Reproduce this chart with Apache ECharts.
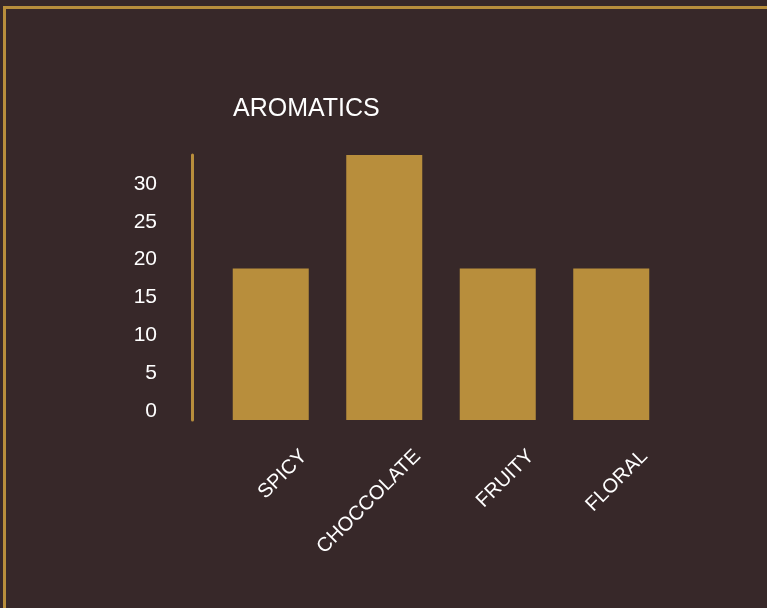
<!DOCTYPE html>
<html>
<head>
<meta charset="utf-8">
<script src="https://cdn.jsdelivr.net/npm/echarts@6/dist/echarts.min.js"></script>
<style>
html,body{margin:0;padding:0;background:#372829;}
#chart{width:767px;height:608px;}
</style>
</head>
<body>
<div id="chart"></div>
<script>
const categories = ['SPICY', 'CHOCCOLATE', 'FRUITY', 'FLORAL'];
const values = [20, 35, 20, 20];
const titleText = 'AROMATICS';

const gold = '#b88e3c';
const chart = echarts.init(document.getElementById('chart'));
chart.setOption({
  backgroundColor: '#372829',
  animation: false,
  title: {
    text: titleText,
    left: 228,
    top: 92,
    textStyle: { color: '#ffffff', fontSize: 25, fontWeight: 'normal', fontFamily: 'Liberation Sans, Arial, sans-serif' }
  },
  graphic: [{
    type: 'rect',
    shape: { x: 4.5, y: 7.5, width: 900, height: 800 },
    style: { fill: 'none', stroke: gold, lineWidth: 3 }
  }],
  grid: { left: 214, right: 99, top: 155, bottom: 188 },
  xAxis: {
    type: 'category',
    data: categories,
    axisLine: { show: false },
    axisTick: { show: false },
    axisLabel: {
      rotate: 45,
      margin: 0,
      color: '#ffffff',
      fontSize: 20,
      fontFamily: 'Liberation Sans, Arial, sans-serif',
      align: 'right',
      verticalAlign: 'top',
      lineHeight: 94,
      interval: 0
    }
  },
  yAxis: {
    type: 'value',
    min: 0,
    max: 35,
    interval: 5,
    offset: 22,
    axisLine: { show: true, lineStyle: { color: gold, width: 3 } },
    axisTick: { show: false },
    splitLine: { show: false },
    axisLabel: {
      showMaxLabel: false,
      margin: 35,
      color: '#ffffff',
      fontSize: 21,
      lineHeight: 18,
      verticalAlign: 'bottom',
      fontFamily: 'Liberation Sans, Arial, sans-serif'
    }
  },
  series: [{
    type: 'bar',
    data: values,
    barWidth: 76,
    itemStyle: { color: gold }
  }]
});
</script>
</body>
</html>
